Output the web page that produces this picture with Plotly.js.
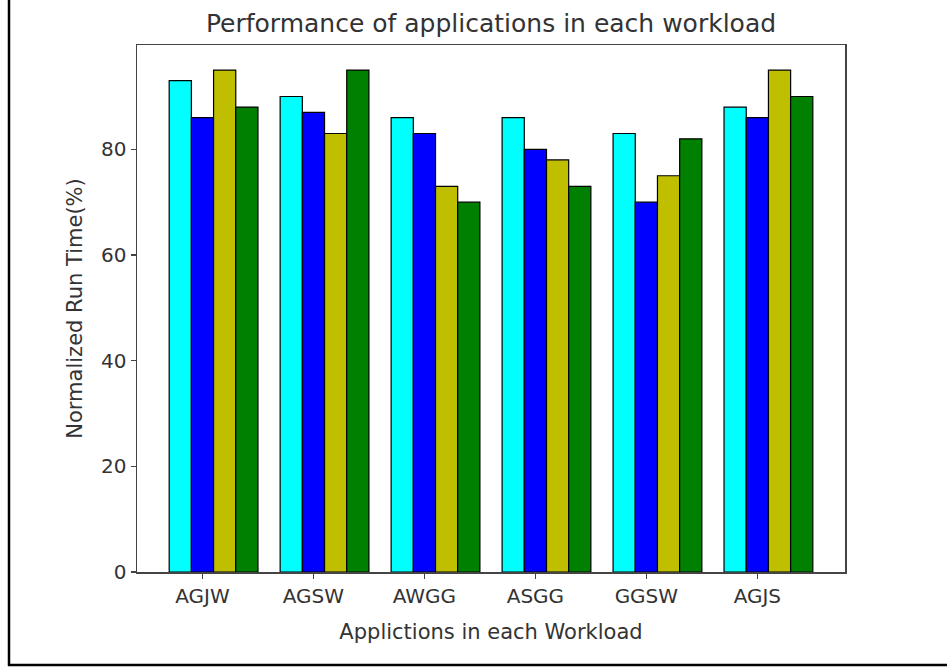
<!DOCTYPE html>
<html>
<head>
<meta charset="utf-8">
<script src="https://cdn.plot.ly/plotly-3.0.1.min.js"></script>
<style>html,body{margin:0;padding:0;background:#fff;}</style>
</head>
<body>
<div id="chart" style="width:947px;height:667px;"></div>
<script>
const categories = ['AGJW', 'AGSW', 'AWGG', 'ASGG', 'GGSW', 'AGJS'];
const seriesCyan   = [93, 90, 86, 86, 83, 88];
const seriesBlue   = [86, 87, 83, 80, 70, 86];
const seriesYellow = [95, 83, 73, 78, 75, 95];
const seriesGreen  = [88, 95, 70, 73, 82, 90];
const seriesList = [seriesCyan, seriesBlue, seriesYellow, seriesGreen];
const colors = ['#00ffff', '#0000ff', '#bfbf00', '#008000'];
const barWidth = 0.2;

const idx = categories.map((_, i) => i);
const traces = seriesList.map((vals, k) => ({
  type: 'bar',
  x: idx.map(i => i + k * barWidth),
  y: vals,
  width: barWidth,
  marker: {color: colors[k], line: {color: '#000', width: 1.2}},
  hoverinfo: 'y',
  showlegend: false
}));

const font = 'DejaVu Sans, Verdana, sans-serif';
const W = 947, H = 667, ml = 137, mr = 102, mt = 45, mb = 95;
const pw = W - ml - mr, ph = H - mt - mb;
const px2x = p => (p - ml) / pw;
const py2y = p => (H - mb - p) / ph;

const layout = {
  width: W, height: H,
  margin: {l: ml, r: mr, t: mt, b: mb, pad: 0},
  paper_bgcolor: '#fff', plot_bgcolor: '#fff',
  font: {family: font, color: '#333'},
  title: {text: 'Performance of applications in each workload', font: {family: font, size: 25, color: '#333'},
          xref: 'paper', x: 0.5, xanchor: 'center', yref: 'container', y: 1 - 23 / H, yanchor: 'middle'},
  xaxis: {
    range: [-0.39, 5.99], tickvals: idx.map(i => i + barWidth), ticktext: categories,
    showgrid: false, zeroline: false, showline: true, mirror: true, linecolor: '#444', linewidth: 1.5,
    ticks: 'outside', ticklen: 5, tickcolor: '#444', tickwidth: 1.2,
    tickfont: {family: font, size: 20, color: '#333'},
    title: {text: 'Applictions in each Workload', font: {family: font, size: 21, color: '#333'}, standoff: 18}
  },
  yaxis: {
    range: [0, 99.75], tickvals: [0, 20, 40, 60, 80],
    showgrid: false, zeroline: false, showline: true, mirror: true, linecolor: '#444', linewidth: 1.5,
    ticks: 'outside', ticklen: 5, tickcolor: '#444', tickwidth: 1.2,
    tickfont: {family: font, size: 20, color: '#333'},
    title: {text: 'Normalized Run Time(%)', font: {family: font, size: 21, color: '#333'}, standoff: 12}
  },
  shapes: [
    {type: 'line', xref: 'paper', yref: 'paper', x0: px2x(9), x1: px2x(9), y0: py2y(666), y1: py2y(0), line: {color: '#000', width: 2.5}},
    {type: 'line', xref: 'paper', yref: 'paper', x0: px2x(8), x1: px2x(947), y0: py2y(665), y1: py2y(665), line: {color: '#000', width: 2.5}}
  ]
};

Plotly.newPlot('chart', traces, layout, {displayModeBar: false, staticPlot: true});
</script>
</body>
</html>
